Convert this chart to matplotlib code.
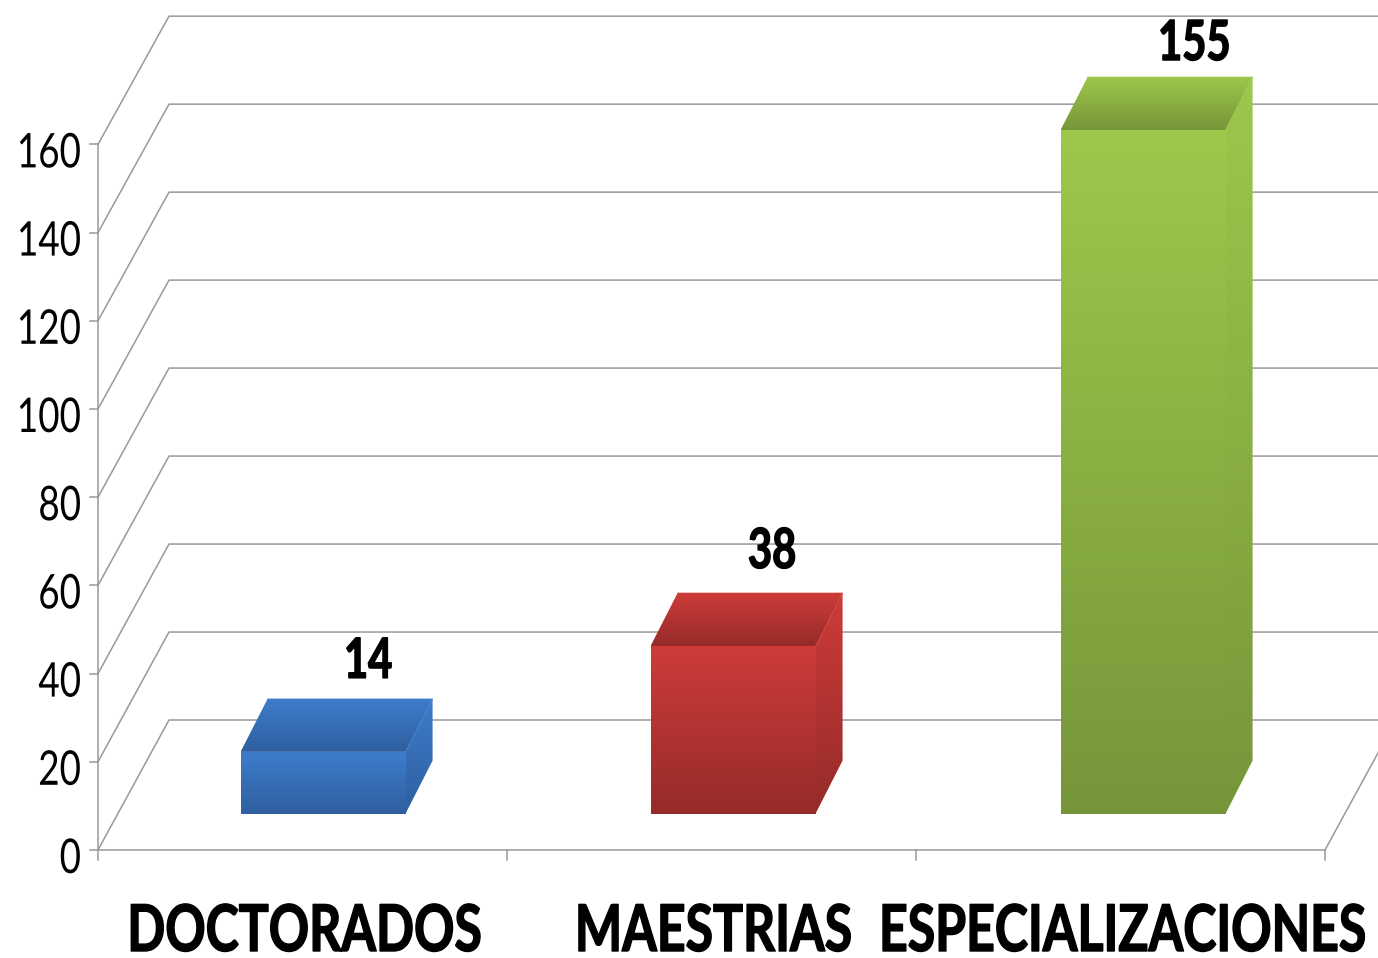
import numpy as np
import matplotlib
matplotlib.use("Agg")
import matplotlib.pyplot as plt
from matplotlib.colors import LinearSegmentedColormap
from matplotlib.patches import Polygon
from matplotlib.patheffects import AbstractPathEffect
from matplotlib.transforms import Affine2D

categorias = ["DOCTORADOS", "MAESTRIAS", "ESPECIALIZACIONES"]
valores = [14, 38, 155]
marcas_y = [0, 20, 40, 60, 80, 100, 120, 140, 160]
rejilla = [0, 20, 40, 60, 80, 100, 120, 140, 160]
colores_claro = ["#3d7ccb", "#cd3c3a", "#9dc84b"]
colores_oscuro = ["#2f5f9f", "#952b29", "#76953a"]
desplaza_etiqueta = [18, 12, 24]
alto_etiqueta = [21, 25, 17]

plt.rcParams["font.family"] = ["Lato", "DejaVu Sans"]

# escala: 409 px por categoria, 4.41 px por unidad
PX_X = 409.0
PX_Y = 4.41
prof_x = 71 / PX_X
prof_y = 130 / PX_Y
GRIS = "#999999"

fig = plt.figure(figsize=(13.78, 9.58), dpi=100)
ax = fig.add_axes([0, 0, 1, 1])
xlim = (-98 / PX_X, (1378 - 98) / PX_X)
ylim = (-(958 - 850) / PX_Y, 850 / PX_Y)
ax.set_xlim(xlim)
ax.set_ylim(ylim)


class Estira(AbstractPathEffect):
    # el texto original va estirado en vertical
    def __init__(self, ancla, sy, grosor):
        super().__init__()
        self.ancla = ancla
        self.sy = sy
        self.grosor = grosor

    def draw_path(self, renderer, gc, tpath, affine, rgbFace=None):
        ay = ax.transData.transform(self.ancla)[1]
        t = affine + Affine2D().translate(0, -ay).scale(1, self.sy).translate(0, ay)
        gc0 = renderer.new_gc()
        gc0.copy_properties(gc)
        gc0.set_linewidth(self.grosor)
        gc0.set_foreground("black")
        renderer.draw_path(gc0, tpath, t, rgbFace)
        gc0.restore()


def texto(x, y, s, size, sy, ha="center", bold=False):
    t = ax.text(x, y, s, ha=ha, va="baseline", fontsize=size, color="black", zorder=6,
                fontweight="bold" if bold else "normal")
    t.set_path_effects([Estira((x, y), sy, 1.0 if bold else 0.0)])


def proy(x, d, y):
    # proyeccion oblicua: d=0 frente, d=1 pared del fondo
    return x + d * prof_x, y + d * prof_y


def cara(puntos, claro, oscuro, z):
    xs = [p[0] for p in puntos]
    ys = [p[1] for p in puntos]
    cmap = LinearSegmentedColormap.from_list("g", [claro, oscuro])
    grad = np.linspace(0, 1, 256).reshape(-1, 1)
    im = ax.imshow(grad, cmap=cmap, aspect="auto", zorder=z, interpolation="bilinear",
                   extent=(min(xs), max(xs), min(ys), max(ys)), origin="upper")
    poly = Polygon(puntos, closed=True, transform=ax.transData, fc="none", ec="none")
    ax.add_patch(poly)
    im.set_clip_path(poly)


# rejilla del fondo y pared lateral
for v in rejilla:
    x0, y0 = proy(0, 0, v)
    x1, y1 = proy(0, 1, v * 0.9975)
    ax.plot([x0, x1, xlim[1]], [y0, y1, y1], color=GRIS, lw=1.1, zorder=1)

# suelo y ejes
x1, y1 = proy(3, 1, 0)
ax.plot([0, 3, x1], [0, 0, y1], color=GRIS, lw=1.1, zorder=1)
ax.plot([0, 0], [-10 / PX_Y, marcas_y[-1]], color=GRIS, lw=1.1, zorder=1)
for v in marcas_y:
    ax.plot([-8 / PX_X, 0], [v, v], color=GRIS, lw=1.1, zorder=1)
    texto(-17 / PX_X, v - 23 / PX_Y, str(v), 26.5, 1.3, ha="right")
for i in range(1, 4):
    ax.plot([i, i], [-10 / PX_Y, 0], color=GRIS, lw=1.1, zorder=1)

# barras
ancho = 165 / PX_X
paso = 410 / PX_X
dx_barra = 27 / PX_X
dy_barra = 53 / PX_Y
for i, (nombre, val) in enumerate(zip(categorias, valores)):
    izq, base = proy(i * paso + 0.3, 0.28, 0)
    der = izq + ancho
    techo = base + val
    c, o = colores_claro[i], colores_oscuro[i]
    frente = [(izq, base), (der, base), (der, techo), (izq, techo)]
    lado = [(der, base), (der + dx_barra, base + dy_barra),
            (der + dx_barra, techo + dy_barra), (der, techo)]
    arriba = [(izq, techo), (der, techo), (der + dx_barra, techo + dy_barra),
              (izq + dx_barra, techo + dy_barra)]
    cara(frente, c, o, 3)
    cara(lado, c, o, 3)
    cara(arriba, c, o, 4)
    # borde claro de la tapa
    ax.plot([der, der + dx_barra, izq + dx_barra],
            [techo, techo + dy_barra, techo + dy_barra], color=c, lw=0.8, alpha=0.6, zorder=5)

    xt = (izq + der) / 2 + dx_barra + desplaza_etiqueta[i] / PX_X
    texto(xt, techo + dy_barra + alto_etiqueta[i] / PX_Y, str(val), 30, 1.33, bold=True)
    texto(i + 0.5 + 2 / PX_X, -101 / PX_Y, nombre, 36, 1.29, bold=True)

ax.set_xlim(xlim)
ax.set_ylim(ylim)
ax.axis("off")
fig.savefig("out.png", dpi=100, facecolor="white")
